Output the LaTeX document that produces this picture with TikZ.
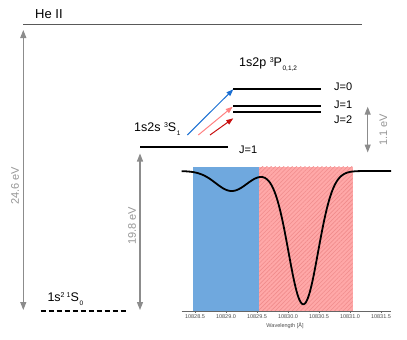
\documentclass[tikz,border=0pt]{standalone}
\usepackage{fontspec}
\setmainfont{Liberation Sans}
\usetikzlibrary{arrows.meta,patterns.meta}
\definecolor{arrgray}{RGB}{140,140,140}
\definecolor{labgray}{RGB}{150,150,150}
\definecolor{bluebox}{RGB}{111,168,222}
\definecolor{pinkbox}{RGB}{255,168,168}
\definecolor{pinkline}{RGB}{240,140,140}
\definecolor{arrblue}{RGB}{25,110,210}
\definecolor{arrlred}{RGB}{255,128,128}
\definecolor{arrdred}{RGB}{200,15,15}
\newcommand\mysup[1]{\raisebox{4.3pt}{\fontsize{7}{8}\selectfont #1}}
\newcommand\mysub[1]{\kern0.6pt\raisebox{-4.2pt}{\fontsize{6.5}{7}\selectfont #1}}
\tikzset{
  level/.style={line width=2pt,black},
  earrow/.style={arrgray,line width=1.1pt,{Triangle[width=6pt,length=8pt]}-{Triangle[width=6pt,length=8pt]}},
  trans/.style={line width=1pt,-{Triangle[width=5pt,length=7pt]}},
  lab/.style={font=\fontsize{12.5}{14}\selectfont,inner sep=0pt},
  jlab/.style={font=\fontsize{11}{13}\selectfont,inner sep=0pt},
  glab/.style={font=\fontsize{11}{13}\selectfont,labgray,inner sep=0pt,rotate=90},
  tick/.style={font=\fontsize{5.5}{6}\selectfont,black!70,inner sep=0pt},
}
\begin{document}
\begin{tikzpicture}[x=1pt,y=-1pt]
\useasboundingbox (0,0) rectangle (407,340);
% title and ionisation line
\node[lab,anchor=west,font=\fontsize{13}{15}\selectfont] (he) at (35,13.8) {He II};
\coordinate (ionL) at (23.3,24.3);
\coordinate (ionR) at (362.3,24.3);
\draw[black!65,line width=0.8pt] (ionL) -- (ionR);
% levels
\coordinate (g1) at (40.7,310.7); \coordinate (g2) at (128.3,310.7);
\draw[level,dash pattern=on 5pt off 3pt] (g1) -- (g2);
\node[lab,anchor=base west] (glabel) at (47.3,301.7) {1s\mysup{2}\,\mysup{1}S\mysub{0}};
\coordinate (s1) at (140,146.7); \coordinate (s2) at (227.7,146.7);
\draw[level] (s1) -- (s2);
\node[lab,anchor=base west] (slabel) at (134,131.5) {1s2s \mysup{3}S\mysub{1}};
\node[jlab,anchor=west] (sj) at (239,150) {J=1};
\coordinate (p0a) at (233.3,88.8); \coordinate (p0b) at (321,88.8);
\coordinate (p1a) at (233.3,105.8); \coordinate (p1b) at (321,105.8);
\coordinate (p2a) at (233.3,111.7); \coordinate (p2b) at (321,111.7);
\draw[level] (p0a) -- (p0b);
\draw[level] (p1a) -- (p1b);
\draw[level] (p2a) -- (p2b);
\node[lab,anchor=base west] (plabel) at (239,66.7) {1s2p \mysup{3}P\mysub{0,1,2}};
\node[jlab,anchor=west] (j0) at (334,86.7) {J=0};
\node[jlab,anchor=west] (j1) at (334,104.3) {J=1};
\node[jlab,anchor=west] (j2) at (334,120) {J=2};
% transitions
\coordinate (tb1) at (187.3,135); \coordinate (tb2) at (233.3,89.3);
\coordinate (tl1) at (198.3,135); \coordinate (tl2) at (232.7,106.7);
\coordinate (td1) at (210,135); \coordinate (td2) at (233.3,118.3);
\draw[trans,arrblue] (tb1) -- (tb2);
\draw[trans,arrlred] (tl1) -- (tl2);
\draw[trans,arrdred] (td1) -- (td2);
% energy arrows
\coordinate (e1t) at (23.3,30); \coordinate (e1b) at (23.3,310);
\draw[earrow] (e1t) -- (e1b);
\node[glab] (e1l) at (15,186) {24.6 eV};
\coordinate (e2t) at (140,153.5); \coordinate (e2b) at (140,310);
\draw[earrow] (e2t) -- (e2b);
\node[glab] (e2l) at (132,226) {19.8 eV};
\coordinate (e3t) at (367.7,106.7); \coordinate (e3b) at (367.7,152.5);
\draw[earrow] (e3t) -- (e3b);
\node[glab] (e3l) at (383.3,130) {1.1 eV};
% spectrum panel
\fill[bluebox] (192.7,166.7) rectangle (259.3,310.7);
\fill[pinkbox] (259.3,166.7) rectangle (352.7,310.7);
\begin{scope}
\clip (259.3,166.7) rectangle (352.7,310.7);
\fill[pattern={Lines[angle=45,distance=3pt,line width=0.6pt]},pattern color=pinkline] (259.3,166.7) rectangle (352.7,310.7);
\end{scope}
\coordinate (axL) at (181.7,310.9); \coordinate (axR) at (391,310.9);
\draw[black!60,line width=0.7pt] (axL) -- (axR);
\foreach \v/\xx in {10828.5/195,10829.0/226,10829.5/257,10830.0/288,10830.5/319,10831.0/350,10831.5/381}{
  \draw[black!60,line width=0.4pt] (\xx,310.9) -- (\xx,312.5);
  \node[tick] at (\xx,316.9) {\v};
}
\node[tick] (wl) at (285,325.7) {Wavelength [Å]};
\draw[black,line width=1.8pt,line join=round,smooth] plot[domain=181.7:391,samples=200,variable=\x]
  (\x,{171+20*exp(-min(((\x-231.7)/16)^2/2,30))+133.3*exp(-min(((\x-303.3)/14.8)^2/2,30))});
\end{tikzpicture}
\end{document}
